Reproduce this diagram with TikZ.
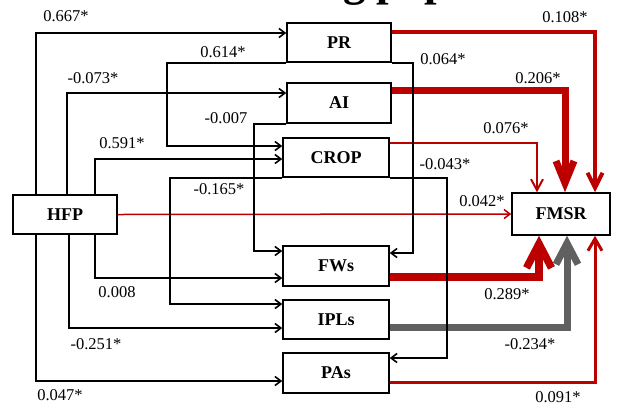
\documentclass[tikz,border=0pt]{standalone}
\usepackage{fontspec}
\setmainfont{Liberation Serif}
\usetikzlibrary{arrows.meta}
\definecolor{dred}{RGB}{188,0,0}
\definecolor{dgray}{RGB}{96,96,96}
\begin{document}
\begin{tikzpicture}[x=1pt,y=-1pt,
  box/.style={draw=black, line width=1.5pt, fill=white, inner sep=0pt,
    font=\fontsize{18}{20}\selectfont\bfseries},
  lbl/.style={font=\fontsize{16.5}{18}\selectfont, inner sep=0pt},
  blk/.style={draw=black, line width=1.6pt,
    -{Straight Barb[length=6pt,width=9pt]}},
  rd/.style={draw=dred},
]
\useasboundingbox (0,0) rectangle (617,405);
\begin{scope}
\clip (0,0) rectangle (617,405);
\node[anchor=base west, inner sep=0pt, font=\fontsize{45}{45}\selectfont\bfseries] (title) at (343,-5) {g pap};
\end{scope}

% boxes
\node[box, minimum width=104pt, minimum height=39pt] (PR)   at (339,42.5) {PR};
\node[box, minimum width=104pt, minimum height=40pt] (AI)   at (339,103) {AI};
\node[box, minimum width=106pt, minimum height=39pt] (CROP) at (336,157.5) {CROP};
\node[box, minimum width=106pt, minimum height=40pt] (FWs)  at (336,266) {FWs};
\node[box, minimum width=106pt, minimum height=39pt] (IPLs) at (336,319.5) {IPLs};
\node[box, minimum width=106pt, minimum height=40pt] (PAs)  at (336,373) {PAs};
\node[box, minimum width=104pt, minimum height=39pt] (HFP)  at (65,214.5) {HFP};
\node[box, minimum width=98pt,  minimum height=42pt] (FMSR) at (561,214) {FMSR};

% red / gray connectors to FMSR
\draw[rd, line width=1.5pt, -{Straight Barb[length=6pt,width=9pt]}] (HFP.east) -- (FMSR.west);
\draw[rd, line width=2pt, -{Straight Barb[length=11pt,width=12pt]}] (CROP.east |- 0,143) -| (FMSR.north -| 537,0);
\draw[rd, line width=4pt, -{Straight Barb[length=15pt,width=15pt]}] (PR.east |- 0,32) -| (FMSR.north -| 595,0);
\draw[rd, line width=7pt, -{Straight Barb[length=22pt,width=18pt]}] (AI.east |- 0,90) -| (FMSR.north -| 565,0);
\draw[rd, line width=3pt, -{Straight Barb[length=12pt,width=14pt]}] (PAs.east |- 0,382) -| (FMSR.south -| 595,0);
\draw[draw=dgray, line width=7pt, -{Straight Barb[length=21pt,width=22pt]}] (IPLs.east |- 0,327) -| (FMSR.south -| 567,0);
\draw[rd, line width=7.5pt, -{Straight Barb[length=24pt,width=25pt]}] (FWs.east |- 0,277) -| (FMSR.south -| 539,0);

% black connectors
\draw[blk] (HFP.north -| 36,0) |- (PR.west |- 0,33);
\draw[blk] (HFP.north -| 67,0) |- (AI.west |- 0,93);
\draw[blk] (HFP.north -| 95,0) |- (CROP.west |- 0,159);
\draw[blk] (HFP.south -| 95,0) |- (FWs.west |- 0,278);
\draw[blk] (HFP.south -| 69,0) |- (IPLs.west |- 0,328);
\draw[blk] (HFP.south -| 36,0) |- (PAs.west |- 0,381);
\draw[blk] (PR.south west) -| (167,146) -- (CROP.west |- 0,146);
\draw[blk] (AI.south west) -| (254,251) -- (FWs.west |- 0,251);
\draw[blk] (CROP.south west) -| (170,304) -- (IPLs.west |- 0,304);
\draw[blk] (PR.south east) -| (413,253) -- (FWs.east |- 0,253);
\draw[blk] (CROP.south east) -| (447,358) -- (PAs.east |- 0,358);

% labels
\node[lbl] (l1)  at (66,16)   {0.667*};
\node[lbl] (l2)  at (223,52)  {0.614*};
\node[lbl] (l3)  at (93,78)   {-0.073*};
\node[lbl] (l4)  at (226,118) {-0.007};
\node[lbl] (l5)  at (122,143) {0.591*};
\node[lbl] (l6)  at (219,189) {-0.165*};
\node[lbl] (l7)  at (565,17)  {0.108*};
\node[lbl] (l8)  at (443,59)  {0.064*};
\node[lbl] (l9)  at (538,78)  {0.206*};
\node[lbl] (l10) at (506,128) {0.076*};
\node[lbl] (l11) at (445,164) {-0.043*};
\node[lbl] (l12) at (482,201) {0.042*};
\node[lbl] (l13) at (117,292) {0.008};
\node[lbl] (l14) at (96,344)  {-0.251*};
\node[lbl] (l15) at (60,395)  {0.047*};
\node[lbl] (l16) at (507,294) {0.289*};
\node[lbl] (l17) at (530,344) {-0.234*};
\node[lbl] (l18) at (558,397) {0.091*};
\end{tikzpicture}
\end{document}
